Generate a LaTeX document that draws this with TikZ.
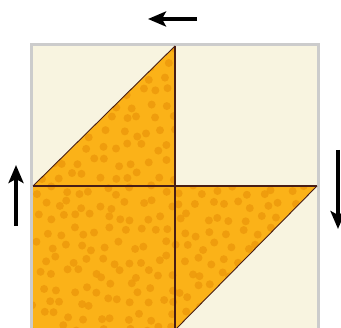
\documentclass[tikz,border=0pt]{standalone}
\usetikzlibrary{arrows.meta}

\definecolor{cream}{RGB}{248,244,224}
\definecolor{fabric}{RGB}{251,178,24}
\definecolor{spot}{RGB}{238,154,12}
\definecolor{seam}{RGB}{72,30,22}
\definecolor{frame}{RGB}{204,204,204}

\begin{document}
\begin{tikzpicture}[x=1pt, y=-1pt]

% Define styles
\tikzstyle{turn} = [line width=3.3pt, -{Stealth[length=18pt, width=15pt, inset=4pt]}]
\tikzstyle{seamline} = [seam, line width=1.6pt]
\tikzstyle{stitch} = [seam, line width=0.9pt]

\useasboundingbox (0,0) rectangle (341,328);

% Block
\begin{scope}
\clip (0,0) rectangle (341,328);
\fill[frame] (30,43) rectangle (320,333);
\fill[cream] (33,46) rectangle (317,330);

% Orange pieces
\fill[fabric] (33,186) -- (175,46) -- (175,330) -- (33,330) -- cycle;
\fill[fabric] (175,186) -- (317,186) -- (175,330) -- cycle;

% Spots on the fabric
\begin{scope}
\clip (33,186) -- (175,46) -- (175,186) -- (317,186) -- (175,330) -- (33,330) -- cycle;
\pgfmathsetseed{11}
\foreach \gx in {0,...,20}{
  \foreach \gy in {0,...,20}{
    \pgfmathsetmacro{\px}{36+14*\gx+5*rand+mod(\gy,2)*7}
    \pgfmathsetmacro{\py}{50+14*\gy+5*rand}
    \fill[spot, opacity=0.85] (\px,\py) circle (4pt);
  }
}
\end{scope}

% Seams
\draw[stitch] (33,186) -- (175,46);
\draw[stitch] (317,186) -- (175,330);
\draw[seamline] (175,46) -- (175,330);
\draw[seamline] (33,186) -- (317,186);
\end{scope}

% Turning arrows
\coordinate (topTail) at (197,19);
\coordinate (topTip) at (148,19);
\coordinate (leftTail) at (16,226);
\coordinate (leftTip) at (16,165);
\coordinate (rightTail) at (338,150);
\coordinate (rightTip) at (338,229);

\draw [turn] (topTail) -- (topTip);
\draw [turn] (leftTail) -- (leftTip);
\draw [turn] (rightTail) -- (rightTip);

\end{tikzpicture}
\end{document}
